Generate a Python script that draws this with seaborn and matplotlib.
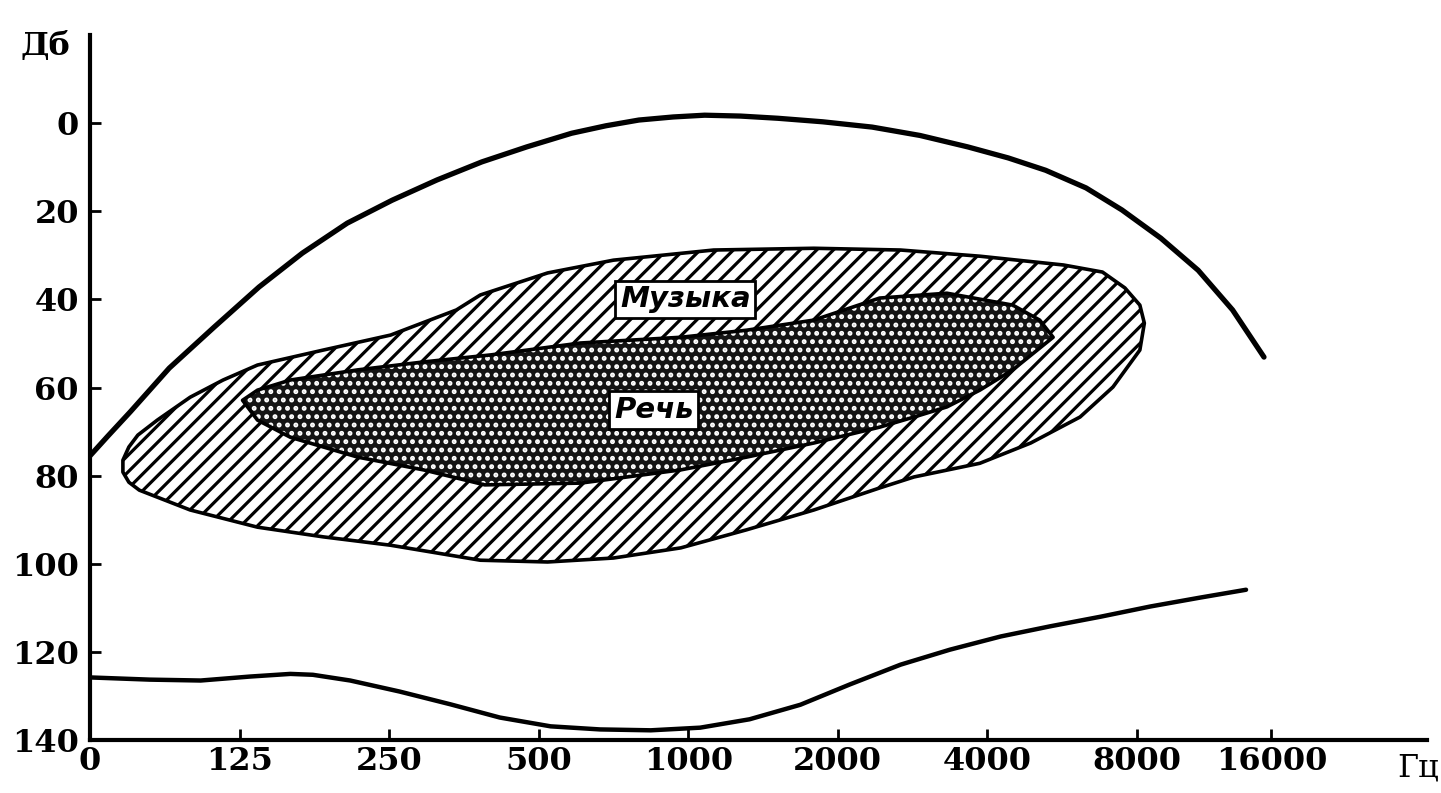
import matplotlib
matplotlib.use("Agg")
import matplotlib.pyplot as plt
import seaborn as sns

# ── Data (x = octave position, 0 -> "0", 1 -> 125 Hz ... 8 -> 16000 Hz; y = dB) ──
freq_labels = ['0', '125', '250', '500', '1000', '2000', '4000', '8000', '16000']
freq_pos = [0, 1, 2, 3, 4, 5, 6, 7, 7.9]
db_ticks = [0, 20, 40, 60, 80, 100, 120, 140]

# upper boundary curve
upper_x = [0.00, 0.12, 0.27, 0.53, 0.83, 1.13, 1.42, 1.72, 2.02, 2.32, 2.62, 2.92, 3.22,
           3.45, 3.67, 3.90, 4.11, 4.35, 4.60, 4.90, 5.23, 5.55, 5.87, 6.14, 6.39, 6.66,
           6.90, 7.16, 7.41, 7.64, 7.85]
upper_y = [75.5, 71.0, 65.5, 55.6, 46.3, 37.2, 29.5, 22.7, 17.5, 12.9, 8.8, 5.4, 2.3,
           0.6, -0.7, -1.4, -1.8, -1.6, -1.1, -0.3, 0.9, 2.8, 5.4, 7.9, 10.7, 14.7,
           19.7, 26.1, 33.4, 42.4, 53.1]

# lower boundary curve
lower_x = [0.00, 0.40, 0.74, 1.07, 1.34, 1.49, 1.74, 2.07, 2.41, 2.74, 3.08, 3.41, 3.75,
           4.08, 4.41, 4.75, 5.08, 5.42, 5.75, 6.09, 6.42, 6.76, 7.09, 7.42, 7.73]
lower_y = [125.8, 126.3, 126.5, 125.6, 125.0, 125.2, 126.5, 129.0, 131.9, 134.9, 136.9,
           137.6, 137.8, 137.2, 135.3, 132.0, 127.4, 122.9, 119.5, 116.5, 114.2, 112.0,
           109.7, 107.7, 105.9]

# music area outline
music_x = [0.22, 0.26, 0.32, 0.45, 0.67, 0.89, 1.12, 1.56, 2.01, 2.45, 2.61, 3.06, 3.50, 4.17,
           4.84, 5.42, 5.95, 6.51, 6.77, 6.92, 7.02, 7.05, 7.02, 6.84, 6.62, 6.29, 5.95,
           5.51, 5.28, 4.84, 4.39, 3.95, 3.50, 3.06, 2.61, 2.01, 1.56, 1.12, 0.67, 0.33,
           0.26, 0.22]
music_y = [76.5, 73.5, 70.8, 67.4, 62.2, 58.3, 54.9, 51.5, 48.1, 42.4, 39.0, 34.0, 31.1, 28.8,
           28.4, 28.8, 30.2, 32.2, 33.8, 37.4, 41.3, 45.4, 51.5, 59.9, 66.7, 72.6, 77.2,
           80.3, 82.8, 87.8, 92.3, 96.4, 98.7, 99.6, 99.2, 95.8, 93.9, 91.7, 87.8, 83.3,
           81.5, 79.2]

# speech area outline
speech_x = [1.02, 1.12, 1.34, 1.79, 2.23, 2.68, 3.28, 3.95, 4.39, 4.84, 5.28, 5.73, 6.17,
            6.35, 6.44, 6.17, 5.95, 5.73, 5.51, 5.28, 4.84, 4.39, 3.95, 3.28, 2.64, 2.23,
            1.79, 1.34, 1.12]
speech_y = [62.9, 60.6, 58.3, 56.0, 54.2, 52.6, 49.9, 48.6, 47.0, 44.7, 39.7, 38.6, 41.3,
            44.7, 48.6, 56.0, 60.6, 64.4, 66.7, 69.0, 72.6, 75.8, 78.7, 81.7, 82.1, 78.7,
            75.8, 71.3, 67.4]

music_label = ('Музыка', 3.98, 40.0)
speech_label = ('Речь', 3.77, 65.1)

# ── Style ─────────────────────────────────────────────────────────────────────
sns.set_theme(style="ticks")
plt.rcParams['font.family'] = ['DejaVu Serif']
plt.rcParams['text.color'] = 'black'
plt.rcParams['hatch.linewidth'] = 2.3

fig = plt.figure(figsize=(14.41, 7.93), dpi=100)
ax = fig.add_axes([90 / 1441, 53 / 793, 1337 / 1441, 705 / 793])

# music area: white with black diagonal hatch
ax.fill(music_x, music_y, facecolor='white', edgecolor='black', hatch='//', linewidth=0)
# speech area: dark with white dots
ax.fill(speech_x, speech_y, facecolor='#141414', edgecolor='white', hatch='..', linewidth=0)
# outlines
ax.fill(music_x, music_y, facecolor='none', edgecolor='black', linewidth=2.6, joinstyle='round')
ax.fill(speech_x, speech_y, facecolor='none', edgecolor='black', linewidth=2.6, joinstyle='round')

sns.lineplot(x=upper_x, y=upper_y, sort=False, color='black', linewidth=3.8, ax=ax,
             solid_joinstyle='round', solid_capstyle='round')
sns.lineplot(x=lower_x, y=lower_y, sort=False, color='black', linewidth=3.2, ax=ax,
             solid_joinstyle='round', solid_capstyle='round')

for text, lx, ly in [music_label, speech_label]:
    ax.text(lx, ly, text, ha='center', va='center', fontsize=21, fontweight='bold',
            style='italic', family='DejaVu Sans', color='black',
            bbox=dict(boxstyle='square,pad=0.16', facecolor='white', edgecolor='black', linewidth=2))

ax.set_xlim(0, 8.94)
ax.set_ylim(140, -20)
ax.set_xticks(freq_pos)
ax.set_xticklabels(freq_labels)
ax.set_yticks(db_ticks)
ax.tick_params(axis='both', direction='in', length=8, width=2, labelsize=23, colors='black')
ax.tick_params(axis='x', pad=4)
ax.tick_params(axis='y', pad=8)
for lbl in ax.get_xticklabels() + ax.get_yticklabels():
    lbl.set_fontweight('bold')

sns.despine(ax=ax)
for side in ['left', 'bottom']:
    ax.spines[side].set_linewidth(3)
    ax.spines[side].set_color('black')
ax.set_xlabel('')
ax.set_ylabel('')

fig.text(45 / 1441, 1 - 47 / 793, 'Дб', ha='center', va='center', fontsize=23,
         fontweight='bold', color='black')
fig.text(1418 / 1441, 1 - 768 / 793, 'Гц', ha='center', va='center', fontsize=23, color='black')

fig.savefig('out.png', dpi=100, facecolor='white')
